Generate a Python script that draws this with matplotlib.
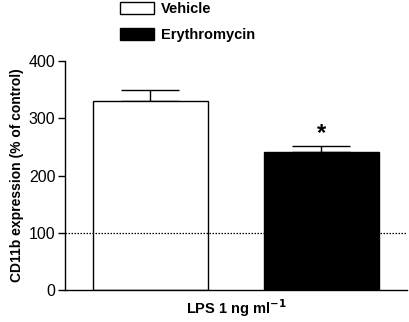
import matplotlib
matplotlib.use("Agg")
import matplotlib.pyplot as plt
from matplotlib.patches import Patch

plt.rcParams['font.family'] = ['Liberation Sans', 'DejaVu Sans']

groups = ["Vehicle", "Erythromycin"]
values = [331, 241]
errors = [18, 11]
colors = ["white", "black"]
yticks = [0, 100, 200, 300, 400]
control_level = 100

fig = plt.figure(figsize=(4.10, 3.22), dpi=100)
ax = fig.add_axes([65/410, 1-290/322, (407-65)/410, (290-61)/322])

x = [0, 1]
bars = ax.bar(x, values, width=0.67, color=colors, edgecolor="black", linewidth=1.0, zorder=2)
ax.errorbar(x, values, yerr=[[0, 0], errors], fmt="none", ecolor="black",
            elinewidth=1.0, capsize=21, capthick=1.0, zorder=1)
ax.axhline(control_level, color="black", linestyle=(0, (1.2, 1.2)), linewidth=0.9, zorder=3)
ax.text(1, values[1] + errors[1] + 2, "*", ha="center", va="bottom",
        fontsize=17, fontweight="bold")

ax.set_xlim(-0.5, 1.5)
ax.set_ylim(0, 400)
ax.set_yticks(yticks)
ax.set_xticks([])
ax.tick_params(axis="y", direction="out", length=5, width=1.0, labelsize=11.5, pad=2)
for s in ["top", "right"]:
    ax.spines[s].set_visible(False)
ax.spines["left"].set_linewidth(1.0)
ax.spines["bottom"].set_linewidth(1.0)

ax.set_ylabel("CD11b expression (% of control)", fontsize=10, fontweight="bold", labelpad=3)
ax.set_xlabel("LPS 1 ng ml$^{\\mathbf{-1}}$", fontsize=10.5, fontweight="bold", labelpad=5)

handles = [Patch(facecolor=c, edgecolor="black", linewidth=1.0) for c in colors]
fig.legend(handles, groups, loc="upper left", bbox_to_anchor=(118/410, 1.0),
           frameon=False, prop={"weight": "bold", "size": 10.5},
           handlelength=2.35, handleheight=0.85, handletextpad=0.45,
           labelspacing=0.8, borderpad=0.15, borderaxespad=0)

fig.savefig("out.png", dpi=100)
